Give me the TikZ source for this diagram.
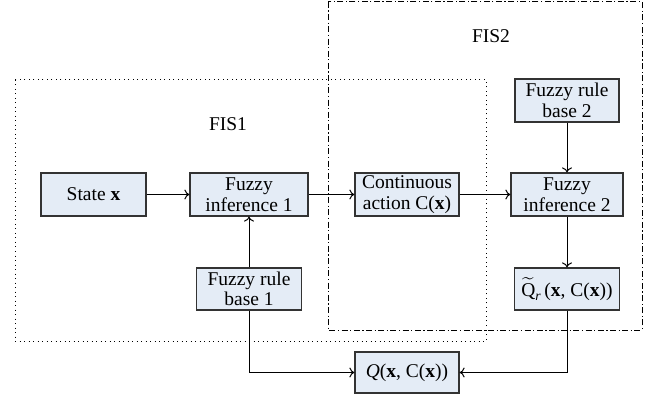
\documentclass[tikz,border=0pt]{standalone}
\usepackage{amsmath}
\usepackage{fontspec}
\setmainfont{Liberation Serif}
\usetikzlibrary{arrows.meta}
\begin{document}
\begin{tikzpicture}[x=1pt,y=-1pt,
  every node/.style={font=\fontsize{19.5}{20.5}\selectfont},
  blk/.style={draw=black!80, line width=1.2pt, fill={rgb,255:red,228;green,236;blue,246},
    inner sep=0pt, align=center, minimum height=43pt},
  conn/.style={line width=1pt, -{To[length=5pt,width=10pt]}},
  fisone/.style={line width=1pt, dash pattern=on 1pt off 3.5pt},
  fistwo/.style={line width=1pt, dash pattern=on 6pt off 2.5pt on 1.2pt off 2.5pt}]
\useasboundingbox (0,0) rectangle (648,398);

% group frames
\draw[fisone] (15,80) rectangle (486,341);
\draw[fistwo] (328,2) rectangle (642,330);
\node (fis1) at (228,124) {FIS1};
\node (fis2) at (491,36) {FIS2};

% blocks
\node[blk, minimum width=105pt] (state) at (93.5,194.5) {State \textbf{x}};
\node[blk, minimum width=118pt] (fi1) at (249,194.5) {Fuzzy\\inference 1};
\node[blk, minimum width=104pt] (cont) at (407,194.5) {Continuous\\action C(\textbf{x})};
\node[blk, minimum width=112pt] (fi2) at (567,194.5) {Fuzzy\\inference 2};
\node[blk, minimum width=104pt] (frb2) at (567,100.5) {Fuzzy rule\\base 2};
\node[blk, minimum width=105pt, minimum height=42pt] (frb1) at (249,289) {Fuzzy rule\\base 1};
\node[blk, minimum width=105pt, minimum height=42pt] (qr) at (567,289)
  {$\widetilde{\text{Q}}_{\textit{r}}$\,(\textbf{x}, C(\textbf{x}))};
\node[blk, minimum width=104pt, minimum height=41pt] (q) at (407,372.5)
  {\textit{Q}(\textbf{x}, C(\textbf{x}))};

% connectors
\draw[conn] (state) -- (fi1);
\draw[conn] (fi1) -- (cont);
\draw[conn] (cont) -- (fi2);
\draw[conn] (frb1) -- (fi1);
\draw[conn] (frb2) -- (fi2);
\draw[conn] (fi2) -- (qr);
\draw[conn] (frb1.south) |- (q.west);
\draw[conn] (qr.south) |- (q.east);
\end{tikzpicture}
\end{document}
